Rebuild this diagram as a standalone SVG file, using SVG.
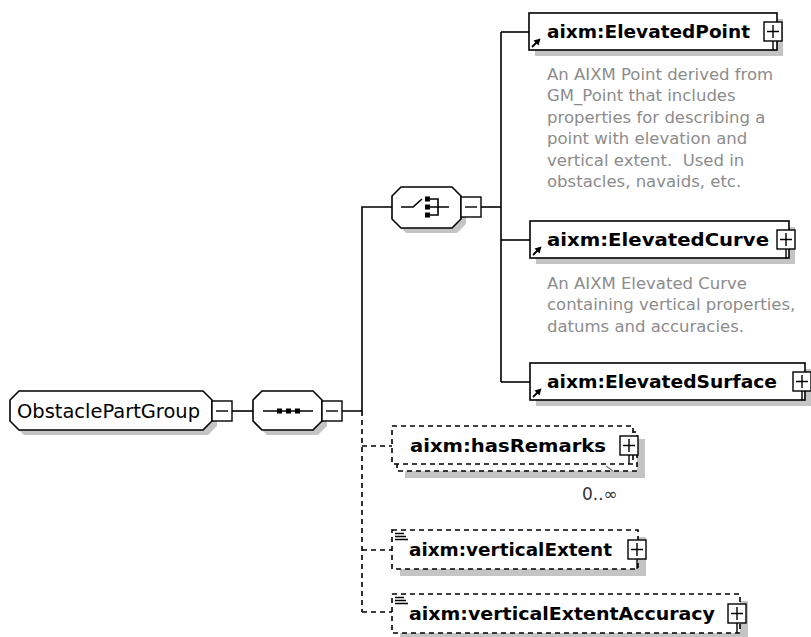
<svg xmlns="http://www.w3.org/2000/svg" width="811" height="637" viewBox="0 0 811 637">
  <defs>
    <style>
      .ln { fill: none; stroke: #000; stroke-width: 1.6; }
      .dash { fill: none; stroke: #000; stroke-width: 1.6; stroke-dasharray: 5 4; }
      .box { fill: #fff; stroke: #000; stroke-width: 1.6; }
      .dbox { fill: #fff; stroke: #000; stroke-width: 1.6; stroke-dasharray: 5 4; }
      .shadow { fill: #c4c4c4; stroke: none; }
      .btn { fill: #fff; stroke: #000; stroke-width: 1.4; }
      .sign { fill: none; stroke: #000; stroke-width: 1.4; }
      .name { font-family: "DejaVu Sans", "Liberation Sans", sans-serif; font-weight: bold; font-size: 18.5px; fill: #000; }
      .grp { font-family: "DejaVu Sans", "Liberation Sans", sans-serif; font-size: 19.3px; fill: #000; }
      .doc { font-family: "DejaVu Sans", "Liberation Sans", sans-serif; font-size: 16.5px; fill: #8c8c8c; }
      .occ { font-family: "DejaVu Sans", "Liberation Sans", sans-serif; font-size: 17px; fill: #333; }
      .sq { fill: #000; }
    </style>
    <!-- small "reference" arrow shown at the bottom-left of element boxes -->
    <g id="refArrow">
      <path d="M0,8 L5,3" stroke="#000" stroke-width="1.8" fill="none"/>
      <polygon points="8.5,-0.5 1.5,1.5 6.5,6.5" fill="#000"/>
    </g>
    <!-- simple-content marker -->
    <g id="textMark" stroke="#000" stroke-width="1.3" fill="none">
      <path d="M0,0.5 H9 M0,3.5 H11 M0,6.5 H13"/>
    </g>
  </defs>

  <!-- connectors -->
  <g id="connectors">
    <path class="ln" d="M232,411 H253"/>
    <path class="ln" d="M342,411 H362 V207 H392"/>
    <path class="ln" d="M481,207 H501"/>
    <path class="ln" d="M501,32 V382"/>
    <path class="ln" d="M501,32 H529"/>
    <path class="ln" d="M501,240 H530"/>
    <path class="ln" d="M501,382 H530"/>
    <path class="dash" d="M362,411 V612"/>
    <path class="dash" d="M362,446 H392"/>
    <path class="dash" d="M362,550 H392"/>
    <path class="dash" d="M362,612 H392"/>
  </g>

  <!-- ObstaclePartGroup -->
  <g id="ObstaclePartGroup">
    <path class="shadow" d="M24,396 H208 L217,405 V426 L208,435 H24 L15,426 V405 Z"/>
    <path class="box" d="M19,391 H203 L212,400 V421 L203,430 H19 L10,421 V400 Z"/>
    <text class="grp" x="17" y="418" textLength="183" lengthAdjust="spacingAndGlyphs">ObstaclePartGroup</text>
    <rect class="btn" x="212" y="401" width="20" height="20"/>
    <path class="sign" d="M216,411 H228"/>
  </g>

  <!-- sequence compositor -->
  <g id="sequence">
    <path class="shadow" d="M267,396 H318 L327,405 V426 L318,435 H267 L258,426 V405 Z"/>
    <path class="box" d="M262,391 H313 L322,400 V421 L313,430 H262 L253,421 V400 Z"/>
    <path class="ln" d="M263,411 H313"/>
    <rect class="sq" x="277" y="408.5" width="5" height="5"/>
    <rect class="sq" x="286" y="408.5" width="5" height="5"/>
    <rect class="sq" x="295" y="408.5" width="5" height="5"/>
    <rect class="btn" x="322" y="401" width="20" height="20"/>
    <path class="sign" d="M326,411 H338"/>
  </g>

  <!-- choice compositor -->
  <g id="choice">
    <path class="shadow" d="M406,192 H457 L466,201 V224 L457,233 H406 L397,224 V201 Z"/>
    <path class="box" d="M401,187 H452 L461,196 V219 L452,228 H401 L392,219 V196 Z"/>
    <path class="ln" d="M401,207 H413 L422,199"/>
    <rect class="sq" x="425" y="196.5" width="5" height="5"/>
    <rect class="sq" x="425" y="204.5" width="5" height="5"/>
    <rect class="sq" x="425" y="212.5" width="5" height="5"/>
    <path class="ln" d="M430,199 H438 V215 H430 M430,207 H449"/>
    <rect class="btn" x="461" y="197" width="20" height="20"/>
    <path class="sign" d="M465,207 H477"/>
  </g>

  <!-- aixm:ElevatedPoint -->
  <g id="ElevatedPoint">
    <rect class="shadow" x="535" y="19" width="248" height="37"/>
    <rect class="box" x="529" y="13" width="248" height="37"/>
    <use href="#refArrow" x="532" y="39"/>
    <text class="name" x="547" y="38" textLength="203" lengthAdjust="spacingAndGlyphs">aixm:ElevatedPoint</text>
    <path class="sign" d="M773,41 V50"/>
    <rect class="btn" x="764" y="22" width="18" height="19"/>
    <path class="sign" d="M767,31.5 H779 M773,25 V38"/>
    <text class="doc" x="547" y="80">An AIXM Point derived from</text>
    <text class="doc" x="547" y="101">GM_Point that includes</text>
    <text class="doc" x="547" y="123">properties for describing a</text>
    <text class="doc" x="547" y="144">point with elevation and</text>
    <text class="doc" x="547" y="166" xml:space="preserve">vertical extent.  Used in</text>
    <text class="doc" x="547" y="187">obstacles, navaids, etc.</text>
  </g>

  <!-- aixm:ElevatedCurve -->
  <g id="ElevatedCurve">
    <rect class="shadow" x="536" y="227" width="259" height="37"/>
    <rect class="box" x="530" y="221" width="259" height="37"/>
    <use href="#refArrow" x="533" y="247"/>
    <text class="name" x="547" y="246" textLength="222" lengthAdjust="spacingAndGlyphs">aixm:ElevatedCurve</text>
    <path class="sign" d="M786,249 V258"/>
    <rect class="btn" x="777" y="230" width="18" height="19"/>
    <path class="sign" d="M780,239.5 H792 M786,233 V246"/>
    <text class="doc" x="547" y="289">An AIXM Elevated Curve</text>
    <text class="doc" x="547" y="310">containing vertical properties,</text>
    <text class="doc" x="547" y="332">datums and accuracies.</text>
  </g>

  <!-- aixm:ElevatedSurface -->
  <g id="ElevatedSurface">
    <rect class="shadow" x="536" y="369" width="275" height="37"/>
    <rect class="box" x="530" y="363" width="275" height="37"/>
    <use href="#refArrow" x="533" y="389"/>
    <text class="name" x="547" y="388" textLength="230" lengthAdjust="spacingAndGlyphs">aixm:ElevatedSurface</text>
    <path class="sign" d="M802,391 V400"/>
    <rect class="btn" x="793" y="372" width="18" height="19"/>
    <path class="sign" d="M796,381.5 H808 M802,375 V388"/>
  </g>

  <!-- aixm:hasRemarks (repeating) -->
  <g id="hasRemarks">
    <rect class="shadow" x="405" y="439" width="240" height="39"/>
    <rect class="dbox" x="397" y="432" width="240" height="39"/>
    <rect class="dbox" x="392" y="426" width="241" height="38"/>
    <text class="name" x="410" y="452" textLength="196" lengthAdjust="spacingAndGlyphs">aixm:hasRemarks</text>
    <path class="sign" d="M629,455 V464"/>
    <rect class="btn" x="620" y="436" width="18" height="19"/>
    <path class="sign" d="M623,445.5 H635 M629,439 V452"/>
    <path d="M606,466 L613,471" stroke="#777" stroke-width="1.3" fill="none"/>
    <text class="occ" x="582" y="500">0..∞</text>
  </g>

  <!-- aixm:verticalExtent -->
  <g id="verticalExtent">
    <rect class="shadow" x="400" y="537" width="246" height="39"/>
    <rect class="dbox" x="392" y="530" width="246" height="39"/>
    <use href="#textMark" x="395" y="533"/>
    <text class="name" x="409" y="556" textLength="203" lengthAdjust="spacingAndGlyphs">aixm:verticalExtent</text>
    <path class="sign" d="M637,559 V569"/>
    <rect class="btn" x="628" y="540" width="18" height="19"/>
    <path class="sign" d="M631,549.5 H643 M637,543 V556"/>
  </g>

  <!-- aixm:verticalExtentAccuracy -->
  <g id="verticalExtentAccuracy">
    <rect class="shadow" x="400" y="601" width="348" height="39"/>
    <rect class="dbox" x="392" y="594" width="348" height="39"/>
    <use href="#textMark" x="395" y="597"/>
    <text class="name" x="409" y="620" textLength="306" lengthAdjust="spacingAndGlyphs">aixm:verticalExtentAccuracy</text>
    <path class="sign" d="M737,623 V633"/>
    <rect class="btn" x="728" y="604" width="18" height="19"/>
    <path class="sign" d="M731,613.5 H743 M737,607 V620"/>
  </g>
</svg>
